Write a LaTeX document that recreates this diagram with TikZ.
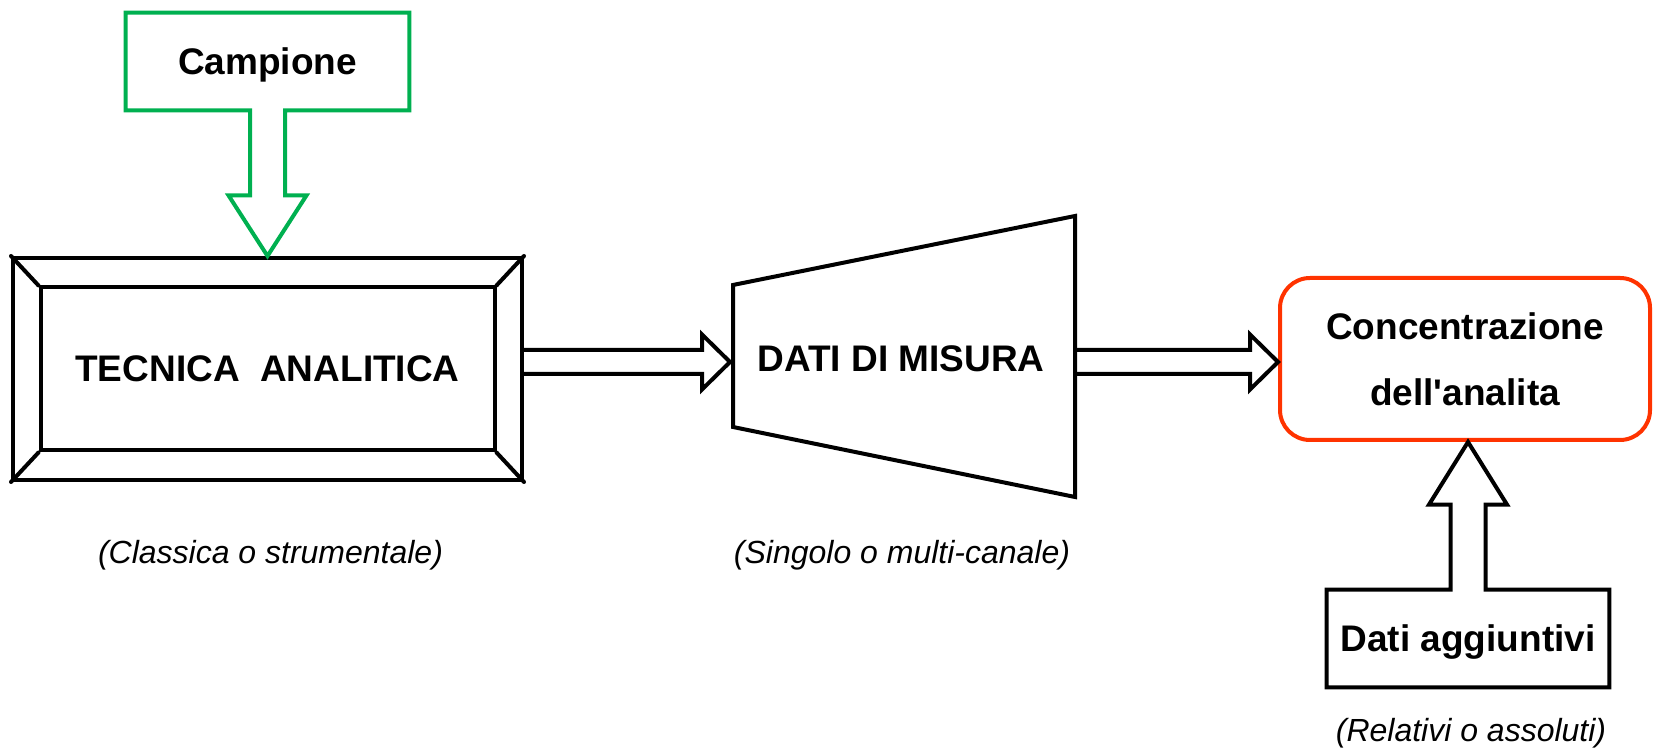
\documentclass[tikz,border=0pt]{standalone}
\usepackage{fontspec}
\setmainfont{Liberation Sans}
\usetikzlibrary{calc}
\definecolor{samplegreen}{RGB}{0,176,80}
\definecolor{resultred}{RGB}{255,51,0}
\newcommand{\flowarrow}[2]{%
	\draw[flowline] ($(#1)+(0,12)$) -- ($(#2)+(-28,12)$) -- ($(#2)+(-28,27.5)$) -- (#2)
		-- ($(#2)+(-28,-27.5)$) -- ($(#2)+(-28,-12)$) -- ($(#1)+(0,-12)$);}

\begin{document}
\begin{tikzpicture}[x=0.5pt,y=0.5pt,
	flowline/.style={line width=2pt,black},
	boxfont/.style={font=\fontsize{18.5}{33}\selectfont\bfseries,inner sep=0pt},
	boxtext/.style={boxfont,text depth=0pt},
	note/.style={font=\fontsize{16}{19}\selectfont\itshape,inner sep=0pt}]
	\useasboundingbox (0,0) rectangle (1653,748);
	\coordinate (flow) at (0,386);

	\node[boxtext,minimum width=141.5pt,minimum height=48.5pt] (campione) at (267.5,686.5) {Campione};
	\node[flowline,draw,minimum width=254.5pt,minimum height=111pt] (tecframe) at (267.5,379) {};
	\node[boxtext,flowline,draw,minimum width=227pt,minimum height=81.5pt] (tecnica) at (267.5,379) {TECNICA\ \ ANALITICA};
	\foreach \c in {north west,north east,south west,south east}
		\draw[flowline,line cap=round] (tecframe.\c) -- (tecnica.\c);
	\draw[flowline,samplegreen] (campione.south west) -- (campione.north west) -- (campione.north east) -- (campione.south east)
		-- ($(campione.south)+(17.5,0)$) -- ++(0,-85) -- ++(21.5,0) -- (campione.south |- tecframe.north)
		-- ($(campione.south)+(-39,-85)$) -- ++(21.5,0) -- ($(campione.south)+(-17.5,0)$) -- cycle;

	\coordinate (dtl) at (733,463);
	\coordinate (dtr) at (1075,532);
	\coordinate (dbr) at (1075,251);
	\coordinate (dbl) at (733,321);
	\draw[flowline] (dtl) -- (dtr) -- (dbr) -- (dbl) -- cycle;
	\node[boxtext] (dati) at (901,389.5) {DATI DI MISURA};

	\node[boxfont,draw=resultred,line width=2pt,rounded corners=15pt,minimum width=185pt,minimum height=81pt,align=center] (conc) at (1465,389) {Concentrazione\\dell\textquotesingle analita};

	\node[boxtext,minimum width=141pt,minimum height=48.5pt] (aggiuntivi) at (1468,109.5) {Dati aggiuntivi};
	\draw[flowline] (aggiuntivi.north west) -- (aggiuntivi.south west) -- (aggiuntivi.south east) -- (aggiuntivi.north east)
		-- ($(aggiuntivi.north)+(17.5,0)$) -- ++(0,85) -- ++(21.5,0) -- (aggiuntivi.north |- conc.south)
		-- ($(aggiuntivi.north)+(-39,85)$) -- ++(21.5,0) -- ($(aggiuntivi.north)+(-17.5,0)$) -- cycle;

	\coordinate (tecout) at (tecframe.east |- flow);
	\coordinate (datiin) at ($(dbl |- flow)+(-3,0)$);
	\coordinate (datiout) at (dtr |- flow);
	\coordinate (concin) at (conc.west |- flow);
	\flowarrow{tecout}{datiin}
	\flowarrow{datiout}{concin}

	\node[note] (classica) at (270.5,192.5) {(Classica o strumentale)};
	\node[note] (singolo) at (902,192.5) {(Singolo o multi-canale)};
	\node[note] (relativi) at (1471,15) {(Relativi o assoluti)};
\end{tikzpicture}
\end{document}
